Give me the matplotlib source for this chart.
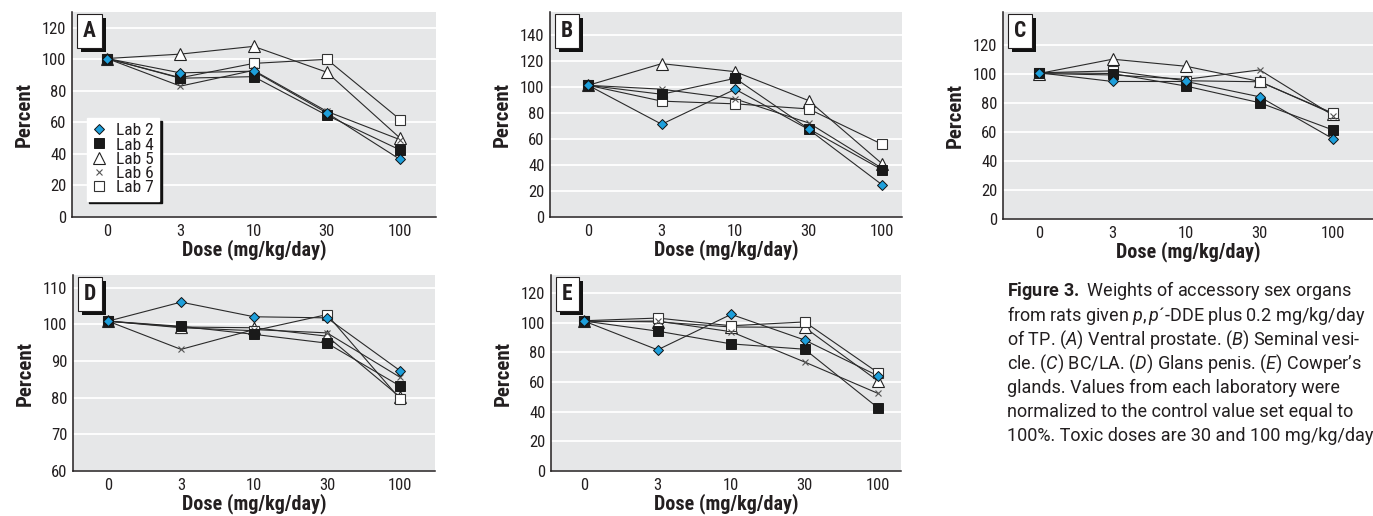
import matplotlib
matplotlib.use("Agg")
import matplotlib.pyplot as plt
import matplotlib.patheffects as pe
from matplotlib.lines import Line2D
from matplotlib.transforms import offset_copy

plt.rcParams['font.family'] = ['Roboto Condensed', 'DejaVu Sans']
plt.rcParams['mathtext.fontset'] = 'custom'
plt.rcParams['mathtext.rm'] = 'Roboto'
plt.rcParams['mathtext.it'] = 'Roboto:italic'
plt.rcParams['mathtext.bf'] = 'Roboto:bold'

# Doses (categorical x axis)
doses = ['0', '3', '10', '30', '100']
labs = ['Lab 2', 'Lab 4', 'Lab 5', 'Lab 6', 'Lab 7']

# Panel A - ventral prostate
a_lab2 = [100.5, 91.4, 92.5, 66.0, 36.5]
a_lab4 = [100.5, 88.0, 89.0, 64.5, 42.5]
a_lab5 = [100.5, 103.3, 108.2, 91.8, 50.0]
a_lab6 = [100.5, 83.0, 93.0, 67.0, 49.0]
a_lab7 = [100.5, 88.3, 97.4, 100.0, 61.8]

# Panel B - seminal vesicle
b_lab2 = [101.5, 71.5, 98.5, 67.5, 24.8]
b_lab4 = [101.5, 94.6, 106.9, 68.0, 36.4]
b_lab5 = [101.5, 118.2, 112.0, 89.7, 41.0]
b_lab6 = [101.5, 98.5, 91.0, 72.5, 37.5]
b_lab7 = [101.5, 89.3, 87.2, 83.3, 56.0]

# Panel C - BC/LA
c_lab2 = [101.0, 95.0, 95.0, 84.4, 55.3]
c_lab4 = [101.0, 100.5, 91.8, 80.3, 61.4]
c_lab5 = [100.5, 110.4, 105.5, 95.0, 72.5]
c_lab6 = [100.5, 99.5, 96.5, 103.0, 71.5]
c_lab7 = [101.0, 102.3, 95.5, 94.8, 73.0]

# Panel D - glans penis
d_lab2 = [100.9, 106.1, 102.1, 101.8, 87.4]
d_lab4 = [100.9, 99.5, 97.3, 94.9, 83.2]
d_lab5 = [100.9, 99.3, 99.1, 96.8, 80.2]
d_lab6 = [100.9, 93.2, 98.6, 97.7, 85.6]
d_lab7 = [100.9, 99.1, 98.3, 102.7, 79.7]

# Panel E - Cowper's glands
e_lab2 = [101.0, 81.6, 105.5, 88.2, 64.0]
e_lab4 = [101.0, 94.2, 85.6, 82.0, 42.4]
e_lab5 = [101.0, 100.4, 97.0, 96.7, 60.5]
e_lab6 = [100.5, 101.0, 93.8, 73.4, 52.2]
e_lab7 = [101.2, 103.0, 97.8, 100.4, 66.1]

# marker styles per lab
styles = {
    'Lab 2': dict(marker='D', ms=5.5, mfc='#1e9fdb', mec='#111111', mew=0.7),
    'Lab 4': dict(marker='s', ms=6.5, mfc='#1a1a1a', mec='#1a1a1a', mew=0.7),
    'Lab 5': dict(marker='^', ms=8, mfc='white', mec='#222222', mew=0.8),
    'Lab 6': dict(marker='x', ms=4, mfc='none', mec='#555555', mew=0.8),
    'Lab 7': dict(marker='s', ms=7.5, mfc='white', mec='#333333', mew=0.8),
}
draw_order = ['Lab 5', 'Lab 7', 'Lab 6', 'Lab 4', 'Lab 2']

W, H = 1373, 516
fig = plt.figure(figsize=(W / 100, H / 100), dpi=100)

bg = '#e6e7e8'
txt = '#231f20'


def make_axes(l, t, r, b):
    return fig.add_axes([l / W, 1 - b / H, (r - l) / W, (b - t) / H])


panels = [
    ('A', (72, 12, 436, 217), (-0.48, 4.49), (0, 130), range(0, 121, 20),
     [a_lab2, a_lab4, a_lab5, a_lab6, a_lab7]),
    ('B', (550, 12, 902, 217), (-0.52, 4.27), (0, 158), range(0, 141, 20),
     [b_lab2, b_lab4, b_lab5, b_lab6, b_lab7]),
    ('C', (1003, 12, 1373, 219), (-0.49, 4.54), (0, 143), range(0, 121, 20),
     [c_lab2, c_lab4, c_lab5, c_lab6, c_lab7]),
    ('D', (73, 275, 435, 471), (-0.48, 4.48), (60, 113.5), range(60, 111, 10),
     [d_lab2, d_lab4, d_lab5, d_lab6, d_lab7]),
    ('E', (551, 275, 901, 471), (-0.45, 4.31), (0, 132), range(0, 121, 20),
     [e_lab2, e_lab4, e_lab5, e_lab6, e_lab7]),
]

for letter, box, xl, yl, yt, series in panels:
    ax = make_axes(*box)
    ax.set_facecolor(bg)
    x = range(len(doses))
    vals = dict(zip(labs, series))
    for lab in labs:
        ax.plot(x, vals[lab], color='#2a2a2a', lw=0.8, zorder=2)
    for lab in draw_order:
        ax.plot(x, vals[lab], ls='none', zorder=3, clip_on=False, **styles[lab])
    ax.set_xlim(*xl)
    ax.set_ylim(*yl)
    ax.set_xticks(list(x))
    ax.set_xticklabels(doses)
    ax.set_yticks(list(yt))
    ax.grid(axis='y', color='white', lw=1.3)
    ax.set_axisbelow(True)
    for s in ['top', 'right']:
        ax.spines[s].set_visible(False)
    for s in ['left', 'bottom']:
        ax.spines[s].set_color('#231f20')
        ax.spines[s].set_linewidth(1.1)
    ax.tick_params(length=0, labelsize=12, colors=txt)
    ax.tick_params(axis='x', pad=5)
    ax.tick_params(axis='y', pad=4)
    ax.set_xlabel('Dose (mg/kg/day)', fontsize=14.5, fontweight='bold',
                  color=txt, labelpad=0)
    ax.set_ylabel('Percent', fontsize=15, fontweight='bold', color=txt,
                  labelpad=6)

    # panel letter in a white box with a black drop shadow
    t = ax.text(0, 1, letter, fontsize=15.5, fontweight='bold', color=txt,
                va='top', ha='left', zorder=5,
                transform=offset_copy(ax.transAxes, fig=fig, x=11, y=-8, units='dots'))
    t.set_bbox(dict(boxstyle='square,pad=0.28', fc='white', ec='#231f20', lw=0.8))
    t.get_bbox_patch().set_path_effects([
        pe.SimplePatchShadow(offset=(3, -3), shadow_rgbFace='#111111', alpha=1),
        pe.Normal()])

    if letter == 'A':
        handles = [Line2D([], [], ls='none', **styles[lab]) for lab in labs]
        leg = ax.legend(handles=handles, labels=labs, loc='lower left',
                        bbox_to_anchor=(0.04, 0.08), borderaxespad=0,
                        fontsize=12.5, frameon=True, fancybox=False,
                        handlelength=0.8, handletextpad=0.6,
                        labelspacing=-0.05, borderpad=0.3,
                        shadow={'color': '#111111', 'alpha': 1})
        leg.get_frame().set_facecolor('white')
        leg.get_frame().set_edgecolor('white')
        for tx in leg.get_texts():
            tx.set_color(txt)

caption = [
    r"$\mathbf{Figure\ 3.}$ Weights of accessory sex organs",
    r"from rats given $\mathit{p,p}$´-DDE plus 0.2 mg/kg/day",
    r"of TP. ($\mathit{A}$) Ventral prostate. ($\mathit{B}$) Seminal vesi-",
    r"cle. ($\mathit{C}$) BC/LA. ($\mathit{D}$) Glans penis. ($\mathit{E}$) Cowper’s",
    r"glands. Values from each laboratory were",
    r"normalized to the control value set equal to",
    r"100%. Toxic doses are 30 and 100 mg/kg/day.",
]
for i, line in enumerate(caption):
    fig.text(1007 / W, 1 - (291 + i * 24.2) / H, line, fontsize=13,
             family='Roboto', color=txt, va='center', ha='left')

fig.savefig('out.png', dpi=100)
